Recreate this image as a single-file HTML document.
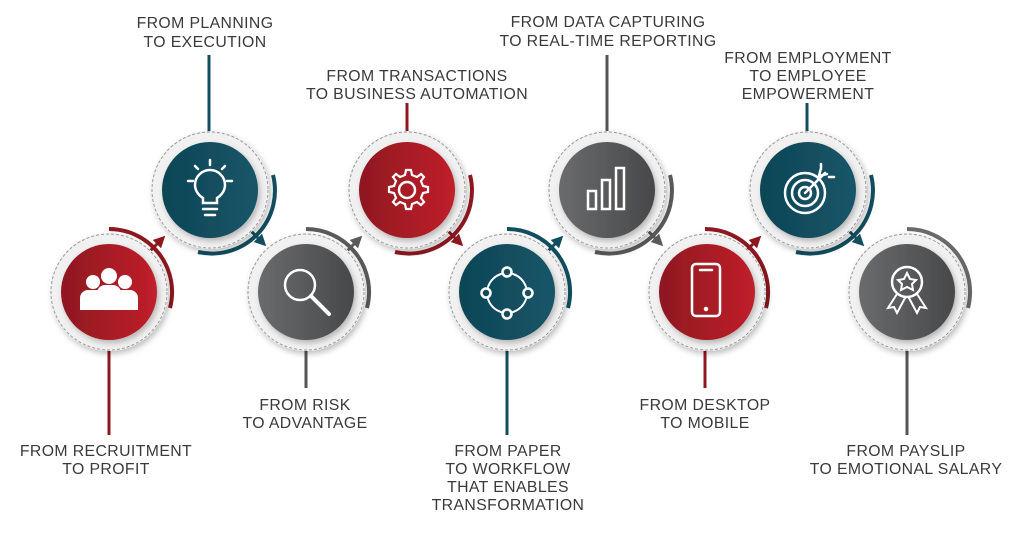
<!DOCTYPE html>
<html><head><meta charset="utf-8"><style>
html,body{margin:0;padding:0;background:#fff;}
svg{display:block;}
text{font-family:"Liberation Sans",sans-serif;font-size:15.8px;fill:#3a3a3a;text-anchor:middle;letter-spacing:0.4px;}
</style></head><body>
<svg width="1024" height="538" viewBox="0 0 1024 538" xmlns="http://www.w3.org/2000/svg">
<defs>
<linearGradient id="gr" x1="0" x2="1"><stop offset="0" stop-color="#8e1820"/><stop offset="1" stop-color="#c0202a"/></linearGradient>
<linearGradient id="gt" x1="0" x2="1"><stop offset="0" stop-color="#0f4656"/><stop offset="1" stop-color="#155568"/></linearGradient>
<linearGradient id="gg" x1="0" x2="1"><stop offset="0" stop-color="#6a6b6d"/><stop offset="1" stop-color="#47484a"/></linearGradient>
<filter id="sh" x="-30%" y="-30%" width="160%" height="160%"><feDropShadow dx="2" dy="3" stdDeviation="3" flood-color="#000" flood-opacity="0.25"/></filter>
<marker id="ar" markerWidth="4" markerHeight="4" refX="2" refY="2" orient="auto"><path d="M0,0 L4,2 L0,4 z" fill="context-stroke"/></marker>
</defs>

<g stroke-width="3">
<line x1="109" y1="350" x2="109" y2="435" stroke="#8e1820"/>
<line x1="209" y1="55" x2="209" y2="132" stroke="#124e5f"/>
<line x1="306" y1="350" x2="306" y2="388" stroke="#555"/>
<line x1="407" y1="103" x2="407" y2="132" stroke="#8e1820"/>
<line x1="507" y1="350" x2="507" y2="435" stroke="#124e5f"/>
<line x1="607" y1="55" x2="607" y2="132" stroke="#555"/>
<line x1="705" y1="350" x2="705" y2="388" stroke="#8e1820"/>
<line x1="807" y1="103" x2="807" y2="132" stroke="#124e5f"/>
<line x1="907" y1="350" x2="907" y2="435" stroke="#555"/>
</g>

<g fill="none" stroke-width="4">
<path d="M109,229 A63,63 0 0 1 170,308" stroke="#8e1820"/>
<path d="M306,229 A63,63 0 0 1 367,308" stroke="#5a5a5a"/>
<path d="M507,229 A63,63 0 0 1 568,308" stroke="#124e5f"/>
<path d="M705,229 A63,63 0 0 1 766,308" stroke="#8e1820"/>
<path d="M907,229 A63,63 0 0 1 968,308" stroke="#6a6a6a"/>
<path d="M273,175 A63,63 0 0 1 198,252" stroke="#124e5f"/>
<path d="M470,175 A63,63 0 0 1 395,252" stroke="#8e1820"/>
<path d="M670,175 A63,63 0 0 1 595,252" stroke="#5a5a5a"/>
<path d="M871,175 A63,63 0 0 1 796,252" stroke="#124e5f"/>
</g>
<g stroke-width="3" fill="none">
<line x1="150" y1="251" x2="161" y2="240" stroke="#8e1820" marker-end="url(#ar)"/>
<line x1="347" y1="251" x2="358" y2="240" stroke="#5a5a5a" marker-end="url(#ar)"/>
<line x1="548" y1="251" x2="559" y2="240" stroke="#124e5f" marker-end="url(#ar)"/>
<line x1="746" y1="251" x2="757" y2="240" stroke="#8e1820" marker-end="url(#ar)"/>
<line x1="251" y1="231" x2="262" y2="242" stroke="#124e5f" marker-end="url(#ar)"/>
<line x1="448" y1="231" x2="459" y2="242" stroke="#8e1820" marker-end="url(#ar)"/>
<line x1="648" y1="231" x2="659" y2="242" stroke="#5a5a5a" marker-end="url(#ar)"/>
<line x1="849" y1="231" x2="860" y2="242" stroke="#124e5f" marker-end="url(#ar)"/>
</g>

<g>
<g filter="url(#sh)">
<circle cx="109" cy="292" r="59" fill="#f1f1f1"/>
<circle cx="210" cy="190" r="59" fill="#f1f1f1"/>
<circle cx="306" cy="292" r="59" fill="#f1f1f1"/>
<circle cx="407" cy="190" r="59" fill="#f1f1f1"/>
<circle cx="507" cy="292" r="59" fill="#f1f1f1"/>
<circle cx="607" cy="190" r="59" fill="#f1f1f1"/>
<circle cx="707" cy="292" r="59" fill="#f1f1f1"/>
<circle cx="808" cy="190" r="59" fill="#f1f1f1"/>
<circle cx="907" cy="292" r="59" fill="#f1f1f1"/>
</g>
<g fill="none" stroke="#9a9a9a" stroke-width="1" stroke-dasharray="3,2">
<circle cx="109" cy="292" r="58"/><circle cx="210" cy="190" r="58"/><circle cx="306" cy="292" r="58"/>
<circle cx="407" cy="190" r="58"/><circle cx="507" cy="292" r="58"/><circle cx="607" cy="190" r="58"/>
<circle cx="707" cy="292" r="58"/><circle cx="808" cy="190" r="58"/><circle cx="907" cy="292" r="58"/>
</g>
<g filter="url(#sh)">
<circle cx="109" cy="292" r="48" fill="url(#gr)"/>
<circle cx="210" cy="190" r="48" fill="url(#gt)"/>
<circle cx="306" cy="292" r="48" fill="url(#gg)"/>
<circle cx="407" cy="190" r="48" fill="url(#gr)"/>
<circle cx="507" cy="292" r="48" fill="url(#gt)"/>
<circle cx="607" cy="190" r="48" fill="url(#gg)"/>
<circle cx="707" cy="292" r="48" fill="url(#gr)"/>
<circle cx="808" cy="190" r="48" fill="url(#gt)"/>
<circle cx="907" cy="292" r="48" fill="url(#gg)"/>
</g>
</g>

<g fill="#fff">
<circle cx="93" cy="282" r="7"/><circle cx="125" cy="282" r="7"/><circle cx="109" cy="276" r="8"/>
<path d="M80,310 v-12 a8,8 0 0 1 8,-8 h10 v20z"/><path d="M138,310 v-12 a8,8 0 0 0 -8,-8 h-10 v20z"/>
<path d="M97,310 v-17 a8,8 0 0 1 8,-8 h8 a8,8 0 0 1 8,8 v17z"/>
</g>
<g fill="none" stroke="#fff" stroke-width="2.5" stroke-linecap="round">
<path d="M203,203 v-5 c-5,-3 -8,-8 -8,-13 a15,15 0 0 1 30,0 c0,5 -3,10 -8,13 v5 z"/>
<path d="M203,209 h14 M205,215 h10"/>
<path d="M210,160 v5 M195,166 l3,3 M225,166 l-3,3 M188,181 h5 M227,181 h5"/>
<circle cx="300" cy="285" r="15"/><path d="M311,296 l18,18" stroke-width="4"/>
<circle cx="407" cy="190" r="8"/>
<path d="M407,170 l4,0 l1,5 l5,2 l4,-3 l3,3 l-3,4 l2,5 l5,1 v5 l-5,1 l-2,5 l3,4 l-3,3 l-4,-3 l-5,2 l-1,5 h-5 l-1,-5 l-5,-2 l-4,3 l-3,-3 l3,-4 l-2,-5 l-5,-1 v-5 l5,-1 l2,-5 l-3,-4 l3,-3 l4,3 l5,-2 l1,-5 z" stroke-width="2.2"/>
<circle cx="507" cy="272" r="4.5"/><circle cx="507" cy="314" r="4.5"/><circle cx="486" cy="293" r="4.5"/><circle cx="528" cy="293" r="4.5"/>
<path d="M513,274 a20,20 0 0 1 13,13 M501,312 a20,20 0 0 1 -13,-13 M488,287 a20,20 0 0 1 13,-13 M526,299 a20,20 0 0 1 -13,13" stroke-width="2"/>
<rect x="588" y="191" width="8" height="18"/><rect x="602" y="180" width="8" height="29"/><rect x="616" y="168" width="8" height="41"/>
<rect x="692" y="264" width="28" height="52" rx="4"/><path d="M700,270 h12"/><circle cx="706" cy="309" r="1" fill="#fff"/>
<circle cx="805" cy="193" r="20"/><circle cx="805" cy="193" r="13"/><circle cx="805" cy="193" r="6"/>
<path d="M805,193 l20,-20 M821,169 v-5 M829,177 h5 M821,168 l-2,8 8,-2"/>
<circle cx="907" cy="282" r="15"/>
<path d="M907,273 l3,6 6,1 -4,4 1,6 -6,-3 -6,3 1,-6 -4,-4 6,-1z" stroke-width="2"/>
<path d="M897,294 l-9,14 6,-1 3,6 8,-15 M917,294 l9,14 -6,-1 -3,6 -8,-15" stroke-width="2"/>
</g>

<text x="106" y="456">FROM RECRUITMENT</text><text x="106" y="474">TO PROFIT</text>
<text x="205" y="28">FROM PLANNING</text><text x="205" y="47">TO EXECUTION</text>
<text x="305" y="410">FROM RISK</text><text x="305" y="428">TO ADVANTAGE</text>
<text x="417" y="81">FROM TRANSACTIONS</text><text x="417" y="99">TO BUSINESS AUTOMATION</text>
<text x="508" y="456">FROM PAPER</text><text x="508" y="474">TO WORKFLOW</text><text x="508" y="492">THAT ENABLES</text><text x="508" y="510">TRANSFORMATION</text>
<text x="608" y="27">FROM DATA CAPTURING</text><text x="608" y="46">TO REAL-TIME REPORTING</text>
<text x="705" y="410">FROM DESKTOP</text><text x="705" y="428">TO MOBILE</text>
<text x="808" y="63">FROM EMPLOYMENT</text><text x="808" y="81">TO EMPLOYEE</text><text x="808" y="99">EMPOWERMENT</text>
<text x="906" y="456">FROM PAYSLIP</text><text x="906" y="474">TO EMOTIONAL SALARY</text>
</svg>
</body></html>
